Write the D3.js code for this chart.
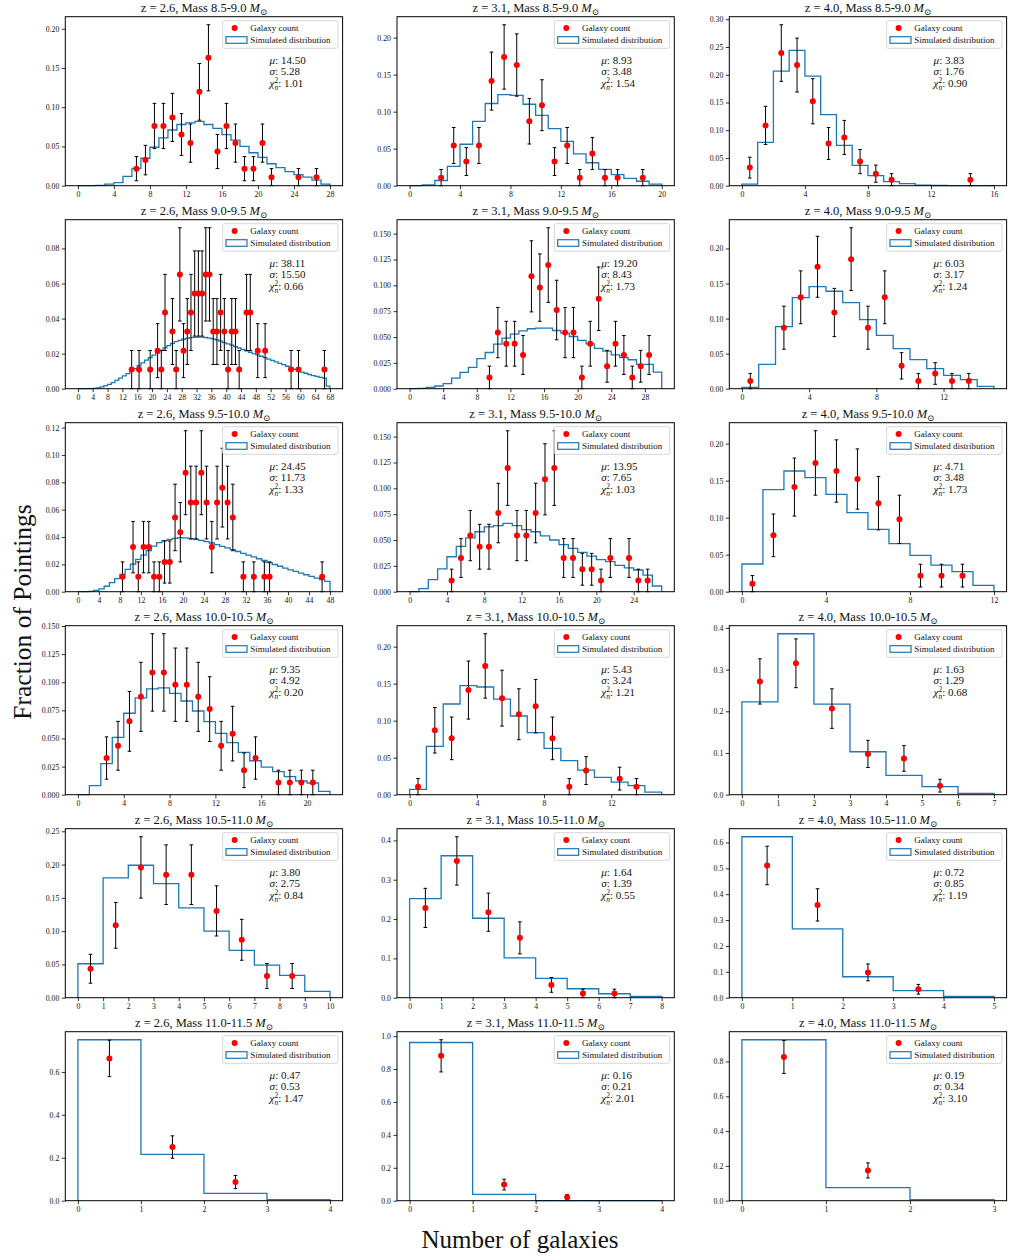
<!DOCTYPE html>
<html><head><meta charset="utf-8">
<script src="https://cdn.jsdelivr.net/npm/d3@7"></script>
<style>
body{margin:0;background:#fff}
svg{display:block}
text{font-family:'Liberation Serif','Times New Roman',serif;fill:#111}
</style>
</head><body>
<svg id="chart" width="1010" height="1260"></svg>
<script>
// ---------------- DATA ----------------
const zLabels = ["2.6", "3.1", "4.0"];
const massLabels = ["8.5-9.0", "9.0-9.5", "9.5-10.0", "10.0-10.5", "10.5-11.0", "11.0-11.5"];

// stats (row-major: mass rows, z columns)
const muVals    = ["14.50","8.93","3.83","38.11","19.20","6.03","24.45","13.95","4.71","9.35","5.43","1.63","3.80","1.64","0.72","0.47","0.16","0.19"];
const sigmaVals = ["5.28","3.48","1.76","15.50","8.43","3.17","11.73","7.65","3.48","4.92","3.24","1.29","2.75","1.39","0.85","0.53","0.21","0.34"];
const chi2Vals  = ["1.01","1.54","0.90","0.66","1.73","1.24","1.33","1.03","1.73","0.20","1.21","0.68","0.84","0.55","1.19","1.47","2.01","3.10"];

// simulated distributions (bin i spans [i, i+1])
const sim_26_85 = [0,0,0.0003,0.002,0.004,0.012,0.022,0.035,0.049,0.061,0.071,0.078,0.080,0.082,0.078,0.073,0.065,0.058,0.050,0.042,0.036,0.028,0.023,0.018,0.014,0.011,0.007,0.002];
const sim_31_85 = [0,0.001,0.007,0.026,0.056,0.087,0.111,0.123,0.122,0.110,0.095,0.077,0.060,0.043,0.031,0.022,0.015,0.010,0.006,0.002];
const sim_40_85 = [0.003,0.078,0.2065,0.244,0.1975,0.128,0.0726,0.0366,0.018,0.0072,0.0036,0.001,0.0004,0.0003,0.0002,0.0001];
const sim_26_90 = [0,0,0,0.0001,0.0002,0.0005,0.001,0.0017,0.0025,0.0035,
  0.0047,0.006,0.0073,0.0086,0.0100,0.0115,0.0131,0.0147,0.0163,0.0177,
  0.0191,0.0205,0.0219,0.0233,0.0246,0.0258,0.0268,0.0276,0.0282,0.0287,
  0.0291,0.0293,0.0294,0.0294,0.0292,0.0288,0.0284,0.0278,0.0271,0.0263,
  0.0256,0.0248,0.0240,0.0232,0.0224,0.0216,0.0208,0.0200,0.0193,0.0185,
  0.0177,0.0169,0.0161,0.0153,0.0145,0.0137,0.0128,0.0119,0.0111,0.0103,
  0.0095,0.0088,0.0081,0.0075,0.0070,0.0065,0.0060,0.0015];
const sim_31_90 = [0,0.0003,0.0013,0.0026,0.005,0.0103,0.0158,0.0206,0.029,0.035,0.0431,0.0489,0.0528,0.056,0.058,0.0586,0.0586,0.0563,0.0537,0.0505,0.0467,0.0434,0.039,0.0364,0.0328,0.0302,0.028,0.0235,0.0235,0.016];
const sim_40_90 = [0.002,0.0348,0.0886,0.130,0.1457,0.139,0.1229,0.0986,0.0762,0.0571,0.0414,0.0286,0.019,0.0129,0.0033];
const sim_26_95 = [0,0,0.0003,0.001,0.002,0.004,0.0066,0.0095,0.0127,0.0163,
  0.0202,0.0237,0.0268,0.030,0.0334,0.0359,0.0373,0.0383,0.039,0.0395,
  0.0393,0.0388,0.0383,0.0376,0.0366,0.0356,0.0344,0.0332,0.032,0.0307,
  0.0294,0.028,0.0267,0.0254,0.0241,0.0228,0.0212,0.0199,0.0186,0.0173,
  0.016,0.0148,0.0136,0.0124,0.0112,0.010,0.0088,0.0075];
const sim_31_95 = [0,0.003,0.0116,0.022,0.0338,0.0438,0.052,0.058,0.0627,0.064,0.066,0.064,0.060,0.058,0.054,0.050,0.0455,0.042,0.038,0.0345,0.031,0.029,0.0255,0.023,0.021,0.016,0.0055];
const sim_40_95 = [0.0374,0.1378,0.163,0.154,0.1315,0.1068,0.0842,0.0649,0.049,0.036,0.027,0.0086];
const sim_26_100 = [0,0.008,0.0276,0.051,0.0724,0.086,0.094,0.0949,0.090,0.0833,0.0744,0.065,0.0546,0.0463,0.0377,0.0302,0.0246,0.0205,0.016,0.0122,0.0104,0.003];
const sim_31_100 = [0.0072,0.0653,0.1225,0.1473,0.1455,0.129,0.1063,0.0838,0.0626,0.046,0.0333,0.0234,0.0171,0.0122,0.0036];
const sim_40_100 = [0.2227,0.386,0.217,0.103,0.0463,0.0192,0.003];
const sim_26_105 = [0.051,0.18,0.199,0.1715,0.135,0.10,0.071,0.049,0.0335,0.0095];
const sim_31_105 = [0.252,0.361,0.202,0.1014,0.049,0.0228,0.010,0.0034];
const sim_40_105 = [0.622,0.266,0.081,0.027,0.005];
const sim_26_110 = [0.750,0.2155,0.034,0.0047];
const sim_31_110 = [0.9615,0.0385,0.001,0.0003];
const sim_40_110 = [0.925,0.0746,0.006];

// observed galaxy counts: x (bin centre), y (fraction), err
const obsX_26_85 = [6.5,7.5,8.5,9.5,10.5,11.5,12.5,13.5,14.5,15.5,16.5,17.5,18.5,19.5,20.5,21.5,24.5,26.5];
const obsY_26_85 = [0.0217,0.0326,0.0761,0.0761,0.0870,0.0652,0.0543,0.1196,0.1630,0.0435,0.0761,0.0543,0.0217,0.0217,0.0543,0.0109,0.0109,0.0109];
const obsE_26_85 = [0.0154,0.0188,0.0288,0.0288,0.0307,0.0266,0.0243,0.0361,0.0421,0.0217,0.0288,0.0243,0.0154,0.0154,0.0243,0.0109,0.0109,0.0109];

const obsX_31_85 = [2.5,3.5,4.5,5.5,6.5,7.5,8.5,9.5,10.5,11.5,12.5,13.5,14.5,15.5,16.5,18.5];
const obsY_31_85 = [0.0109,0.0543,0.0326,0.0543,0.1413,0.1739,0.1630,0.0870,0.1087,0.0326,0.0543,0.0109,0.0435,0.0109,0.0109,0.0109];
const obsE_31_85 = [0.0109,0.0243,0.0188,0.0243,0.0392,0.0435,0.0421,0.0307,0.0344,0.0188,0.0243,0.0109,0.0217,0.0109,0.0109,0.0109];

const obsX_40_85 = [0.5,1.5,2.5,3.5,4.5,5.5,6.5,7.5,8.5,9.5,14.5];
const obsY_40_85 = [0.0326,0.1087,0.2391,0.2174,0.1522,0.0761,0.0870,0.0435,0.0217,0.0109,0.0109];
const obsE_40_85 = [0.0188,0.0344,0.0510,0.0486,0.0407,0.0288,0.0307,0.0217,0.0154,0.0109,0.0109];

const obsX_26_90 = [14.5,16.5,19.5,21.5,22.5,23.5,25.5,26.5,27.5,28.5,29.5,30.5,31.5,32.5,33.5,34.5,35.5,36.5,37.5,38.5,39.5,40.5,41.5,42.5,43.5,45.5,46.5,48.5,50.5,57.5,59.5,66.5];
const obsY_26_90 = [0.0109,0.0109,0.0109,0.0217,0.0109,0.0435,0.0326,0.0109,0.0652,0.0217,0.0326,0.0435,0.0543,0.0543,0.0543,0.0652,0.0652,0.0326,0.0326,0.0435,0.0326,0.0109,0.0326,0.0326,0.0109,0.0435,0.0435,0.0217,0.0217,0.0109,0.0109,0.0109];
const obsE_26_90 = [0.0109,0.0109,0.0109,0.0154,0.0109,0.0217,0.0188,0.0109,0.0266,0.0154,0.0188,0.0217,0.0243,0.0243,0.0243,0.0266,0.0266,0.0188,0.0188,0.0217,0.0188,0.0109,0.0188,0.0188,0.0109,0.0217,0.0217,0.0154,0.0154,0.0109,0.0109,0.0109];

const obsX_31_90 = [9.5,10.5,11.5,12.5,13.5,14.5,15.5,16.5,17.5,18.5,19.5,20.5,21.5,22.5,23.5,24.5,25.5,26.5,27.5,28.5];
const obsY_31_90 = [0.0109,0.0543,0.0435,0.0435,0.0326,0.1087,0.0978,0.1196,0.0761,0.0543,0.0543,0.0109,0.0435,0.0870,0.0217,0.0435,0.0326,0.0109,0.0217,0.0326];
const obsE_31_90 = [0.0109,0.0243,0.0217,0.0217,0.0188,0.0344,0.0326,0.0361,0.0288,0.0243,0.0243,0.0109,0.0217,0.0307,0.0154,0.0217,0.0188,0.0109,0.0154,0.0188];

const obsX_40_90 = [0.5,2.5,3.5,4.5,5.5,6.5,7.5,8.5,9.5,10.5,11.5,12.5,13.5];
const obsY_40_90 = [0.0109,0.0870,0.1304,0.1739,0.1087,0.1848,0.0870,0.1304,0.0326,0.0109,0.0217,0.0109,0.0109];
const obsE_40_90 = [0.0109,0.0307,0.0377,0.0435,0.0344,0.0448,0.0307,0.0377,0.0188,0.0109,0.0154,0.0109,0.0109];

const obsX_26_95 = [8.5,10.5,11.5,12.5,13.5,14.5,15.5,16.5,17.5,18.5,19.5,20.5,21.5,22.5,23.5,24.5,25.5,26.5,27.5,28.5,29.5,31.5,33.5,35.5,36.5,46.5];
const obsY_26_95 = [0.0109,0.0326,0.0109,0.0326,0.0326,0.0109,0.0109,0.0217,0.0217,0.0543,0.0435,0.0870,0.0652,0.0652,0.0870,0.0652,0.0326,0.0652,0.0761,0.0652,0.0543,0.0109,0.0109,0.0109,0.0109,0.0109];
const obsE_26_95 = [0.0109,0.0188,0.0109,0.0188,0.0188,0.0109,0.0109,0.0154,0.0154,0.0243,0.0217,0.0307,0.0266,0.0266,0.0307,0.0266,0.0188,0.0266,0.0288,0.0266,0.0243,0.0109,0.0109,0.0109,0.0109,0.0109];

const obsX_31_95 = [4.5,5.5,6.5,7.5,8.5,9.5,10.5,11.5,12.5,13.5,14.5,15.5,16.5,17.5,18.5,19.5,20.5,21.5,23.5,24.5,25.5];
const obsY_31_95 = [0.0109,0.0326,0.0543,0.0435,0.0435,0.0761,0.1196,0.0543,0.0543,0.0761,0.1087,0.1196,0.0326,0.0326,0.0217,0.0217,0.0109,0.0326,0.0326,0.0109,0.0109];
const obsE_31_95 = [0.0109,0.0188,0.0243,0.0217,0.0217,0.0288,0.0361,0.0243,0.0243,0.0288,0.0344,0.0361,0.0188,0.0188,0.0154,0.0154,0.0109,0.0188,0.0188,0.0109,0.0109];

const obsX_40_95 = [0.5,1.5,2.5,3.5,4.5,5.5,6.5,7.5,8.5,9.5,10.5];
const obsY_40_95 = [0.0109,0.0761,0.1413,0.1739,0.1630,0.1522,0.1196,0.0978,0.0217,0.0217,0.0217];
const obsE_40_95 = [0.0109,0.0288,0.0392,0.0435,0.0421,0.0407,0.0361,0.0326,0.0154,0.0154,0.0154];

const obsX_26_100 = [2.5,3.5,4.5,5.5,6.5,7.5,8.5,9.5,10.5,11.5,12.5,13.5,14.5,15.5,17.5,18.5,19.5,20.5];
const obsY_26_100 = [0.0326,0.0435,0.0652,0.0870,0.1087,0.1087,0.0978,0.0978,0.0870,0.0761,0.0435,0.0543,0.0217,0.0326,0.0109,0.0109,0.0109,0.0109];
const obsE_26_100 = [0.0188,0.0217,0.0266,0.0307,0.0344,0.0344,0.0326,0.0326,0.0307,0.0288,0.0217,0.0243,0.0154,0.0188,0.0109,0.0109,0.0109,0.0109];

const obsX_31_100 = [0.5,1.5,2.5,3.5,4.5,5.5,6.5,7.5,8.5,9.5,10.5,12.5,13.5];
const obsY_31_100 = [0.0109,0.0870,0.0761,0.1413,0.1739,0.1304,0.1087,0.1196,0.0761,0.0109,0.0326,0.0217,0.0109];
const obsE_31_100 = [0.0109,0.0307,0.0288,0.0392,0.0435,0.0377,0.0344,0.0361,0.0288,0.0109,0.0188,0.0154,0.0109];

const obsX_40_100 = [0.5,1.5,2.5,3.5,4.5,5.5];
const obsY_40_100 = [0.2717,0.3152,0.2065,0.0978,0.0870,0.0217];
const obsE_40_100 = [0.0543,0.0585,0.0474,0.0326,0.0307,0.0154];

const obsX_26_105 = [0.5,1.5,2.5,3.5,4.5,5.5,6.5,7.5,8.5];
const obsY_26_105 = [0.0435,0.1087,0.1957,0.1848,0.1848,0.1304,0.0870,0.0326,0.0326];
const obsE_26_105 = [0.0217,0.0344,0.0461,0.0448,0.0448,0.0377,0.0307,0.0188,0.0188];

const obsX_31_105 = [0.5,1.5,2.5,3.5,4.5,5.5,6.5];
const obsY_31_105 = [0.2283,0.3478,0.2174,0.1522,0.0326,0.0109,0.0109];
const obsE_31_105 = [0.0498,0.0615,0.0486,0.0407,0.0188,0.0109,0.0109];

const obsX_40_105 = [0.5,1.5,2.5,3.5];
const obsY_40_105 = [0.5109,0.3587,0.0978,0.0326];
const obsE_40_105 = [0.0745,0.0624,0.0326,0.0188];

const obsX_26_110 = [0.5,1.5,2.5];
const obsY_26_110 = [0.6630,0.2500,0.0870];
const obsE_26_110 = [0.0849,0.0521,0.0307];

const obsX_31_110 = [0.5,1.5,2.5];
const obsY_31_110 = [0.8804,0.0978,0.0217];
const obsE_31_110 = [0.0978,0.0326,0.0154];

const obsX_40_110 = [0.5,1.5];
const obsY_40_110 = [0.8261,0.1739];
const obsE_40_110 = [0.0948,0.0435];

// tick values
const xt_26_85 = [0,4,8,12,16,20,24,28];
const xt_31_85 = [0,4,8,12,16,20];
const xt_40_85 = [0,4,8,12,16];
const xt_26_90 = [0,4,8,12,16,20,24,28,32,36,40,44,48,52,56,60,64,68];
const xt_31_90 = [0,4,8,12,16,20,24,28];
const xt_40_90 = [0,4,8,12];
const xt_26_95 = [0,4,8,12,16,20,24,28,32,36,40,44,48];
const xt_31_95 = [0,4,8,12,16,20,24];
const xt_40_95 = [0,4,8,12];
const xt_26_100 = [0,4,8,12,16,20];
const xt_31_100 = [0,4,8,12];
const xt_40_100 = [0,1,2,3,4,5,6,7];
const xt_26_105 = [0,1,2,3,4,5,6,7,8,9,10];
const xt_31_105 = [0,1,2,3,4,5,6,7,8];
const xt_40_105 = [0,1,2,3,4,5];
const xt_26_110 = [0,1,2,3,4];
const xt_31_110 = [0,1,2,3,4];
const xt_40_110 = [0,1,2,3];

const yt_26_85 = ["0.00","0.05","0.10","0.15","0.20"];
const yt_31_85 = ["0.00","0.05","0.10","0.15","0.20"];
const yt_40_85 = ["0.00","0.05","0.10","0.15","0.20","0.25","0.30"];
const yt_26_90 = ["0.00","0.02","0.04","0.06","0.08"];
const yt_31_90 = ["0.000","0.025","0.050","0.075","0.100","0.125","0.150"];
const yt_40_90 = ["0.00","0.05","0.10","0.15","0.20"];
const yt_26_95 = ["0.00","0.02","0.04","0.06","0.08","0.10","0.12"];
const yt_31_95 = ["0.000","0.025","0.050","0.075","0.100","0.125","0.150"];
const yt_40_95 = ["0.00","0.05","0.10","0.15","0.20"];
const yt_26_100 = ["0.000","0.025","0.050","0.075","0.100","0.125","0.150"];
const yt_31_100 = ["0.00","0.05","0.10","0.15","0.20"];
const yt_40_100 = ["0.0","0.1","0.2","0.3","0.4"];
const yt_26_105 = ["0.00","0.05","0.10","0.15","0.20","0.25"];
const yt_31_105 = ["0.0","0.1","0.2","0.3","0.4"];
const yt_40_105 = ["0.0","0.1","0.2","0.3","0.4","0.5","0.6"];
const yt_26_110 = ["0.0","0.2","0.4","0.6"];
const yt_31_110 = ["0.0","0.2","0.4","0.6","0.8","1.0"];
const yt_40_110 = ["0.0","0.2","0.4","0.6","0.8"];

const panels = [
  {sim: sim_26_85, ox: obsX_26_85, oy: obsY_26_85, oe: obsE_26_85, xt: xt_26_85, yt: yt_26_85},
  {sim: sim_31_85, ox: obsX_31_85, oy: obsY_31_85, oe: obsE_31_85, xt: xt_31_85, yt: yt_31_85},
  {sim: sim_40_85, ox: obsX_40_85, oy: obsY_40_85, oe: obsE_40_85, xt: xt_40_85, yt: yt_40_85},
  {sim: sim_26_90, ox: obsX_26_90, oy: obsY_26_90, oe: obsE_26_90, xt: xt_26_90, yt: yt_26_90},
  {sim: sim_31_90, ox: obsX_31_90, oy: obsY_31_90, oe: obsE_31_90, xt: xt_31_90, yt: yt_31_90},
  {sim: sim_40_90, ox: obsX_40_90, oy: obsY_40_90, oe: obsE_40_90, xt: xt_40_90, yt: yt_40_90},
  {sim: sim_26_95, ox: obsX_26_95, oy: obsY_26_95, oe: obsE_26_95, xt: xt_26_95, yt: yt_26_95},
  {sim: sim_31_95, ox: obsX_31_95, oy: obsY_31_95, oe: obsE_31_95, xt: xt_31_95, yt: yt_31_95},
  {sim: sim_40_95, ox: obsX_40_95, oy: obsY_40_95, oe: obsE_40_95, xt: xt_40_95, yt: yt_40_95},
  {sim: sim_26_100, ox: obsX_26_100, oy: obsY_26_100, oe: obsE_26_100, xt: xt_26_100, yt: yt_26_100},
  {sim: sim_31_100, ox: obsX_31_100, oy: obsY_31_100, oe: obsE_31_100, xt: xt_31_100, yt: yt_31_100},
  {sim: sim_40_100, ox: obsX_40_100, oy: obsY_40_100, oe: obsE_40_100, xt: xt_40_100, yt: yt_40_100},
  {sim: sim_26_105, ox: obsX_26_105, oy: obsY_26_105, oe: obsE_26_105, xt: xt_26_105, yt: yt_26_105},
  {sim: sim_31_105, ox: obsX_31_105, oy: obsY_31_105, oe: obsE_31_105, xt: xt_31_105, yt: yt_31_105},
  {sim: sim_40_105, ox: obsX_40_105, oy: obsY_40_105, oe: obsE_40_105, xt: xt_40_105, yt: yt_40_105},
  {sim: sim_26_110, ox: obsX_26_110, oy: obsY_26_110, oe: obsE_26_110, xt: xt_26_110, yt: yt_26_110},
  {sim: sim_31_110, ox: obsX_31_110, oy: obsY_31_110, oe: obsE_31_110, xt: xt_31_110, yt: yt_31_110},
  {sim: sim_40_110, ox: obsX_40_110, oy: obsY_40_110, oe: obsE_40_110, xt: xt_40_110, yt: yt_40_110}
];

// ---------------- DRAW ----------------
const svg = d3.select("#chart");
const colLeft = [65.3, 397, 729.3];
const axW = 277.3, axH = 169;
const rowTop = r => 16.7 + 203 * r;
const BLUE = "#1f77b4";

panels.forEach((p, i) => {
  const r = Math.floor(i / 3), c = i % 3;
  const L = colLeft[c], T = rowTop(r), R = L + axW, B = T + axH;
  const nb = p.sim.length;
  const x = d3.scaleLinear().domain([-0.05 * nb, 1.05 * nb]).range([L, R]);
  const top = 1.05 * Math.max(d3.max(p.sim), d3.max(p.oy.map((v, j) => v + p.oe[j])));
  const y = d3.scaleLinear().domain([0, top]).range([B, T]);
  const g = svg.append("g");

  // histogram step outline
  const stepPts = [[0, 0]];
  p.sim.forEach((h, j) => { stepPts.push([j, h]); stepPts.push([j + 1, h]); });
  stepPts.push([nb, 0]);
  g.append("path")
    .attr("d", d3.line().x(d => x(d[0])).y(d => y(d[1]))(stepPts))
    .attr("fill", "none").attr("stroke", BLUE).attr("stroke-width", 1.3)
    .attr("stroke-linejoin", "miter");

  // error bars
  const obs = p.ox.map((v, j) => ({x: v, y: p.oy[j], e: p.oe[j]}));
  const eb = g.append("g").attr("stroke", "#000").attr("stroke-width", 1);
  eb.selectAll("line.v").data(obs).join("line").attr("class", "v")
    .attr("x1", d => x(d.x)).attr("x2", d => x(d.x))
    .attr("y1", d => y(d.y - d.e)).attr("y2", d => y(d.y + d.e));
  eb.selectAll("line.cl").data(obs).join("line").attr("class", "cl")
    .attr("x1", d => x(d.x) - 1.8).attr("x2", d => x(d.x) + 1.8)
    .attr("y1", d => y(d.y - d.e)).attr("y2", d => y(d.y - d.e));
  eb.selectAll("line.ch").data(obs).join("line").attr("class", "ch")
    .attr("x1", d => x(d.x) - 1.8).attr("x2", d => x(d.x) + 1.8)
    .attr("y1", d => y(d.y + d.e)).attr("y2", d => y(d.y + d.e));
  g.selectAll("circle").data(obs).join("circle")
    .attr("cx", d => x(d.x)).attr("cy", d => y(d.y)).attr("r", 3)
    .attr("fill", "#ff0000");

  // axes
  const xa = g.append("g").attr("transform", `translate(0,${B})`)
    .call(d3.axisBottom(x).tickValues(p.xt).tickSize(3.5).tickSizeOuter(0).tickPadding(2.5).tickFormat(d3.format("d")));
  const ya = g.append("g").attr("transform", `translate(${L},0)`)
    .call(d3.axisLeft(y).tickValues(p.yt.map(Number)).tickSize(3.5).tickSizeOuter(0).tickPadding(2.5)
      .tickFormat((d, k) => p.yt[k]));
  [xa, ya].forEach(a => {
    a.select(".domain").remove();
    a.selectAll(".tick line").attr("stroke", "#000").attr("stroke-width", 0.8);
    a.selectAll(".tick text").attr("font-size", 7.8).attr("font-family", "'Liberation Serif',serif").attr("fill", "#222");
  });

  // frame
  g.append("rect").attr("x", L).attr("y", T).attr("width", axW).attr("height", axH)
    .attr("fill", "none").attr("stroke", "#000").attr("stroke-width", 1);

  // title
  const title = g.append("text").attr("x", (L + R) / 2).attr("y", T - 4.5)
    .attr("text-anchor", "middle").attr("font-size", 12.5);
  title.append("tspan").text(`z = ${zLabels[c]}, Mass ${massLabels[r]} `);
  title.append("tspan").attr("font-style", "italic").text("M");
  title.append("tspan").attr("font-size", 8.5).attr("dy", 2.5).attr("font-family", "'DejaVu Serif',serif").text("\u2299");

  // legend
  const lg = g.append("g").attr("transform", `translate(${R - 120},${T + 4})`);
  lg.append("rect").attr("width", 115.4).attr("height", 27.6).attr("rx", 2)
    .attr("fill", "#fff").attr("fill-opacity", 0.8).attr("stroke", "#cccccc").attr("stroke-width", 0.8);
  lg.append("circle").attr("cx", 12).attr("cy", 7.3).attr("r", 3).attr("fill", "#ff0000");
  lg.append("text").attr("x", 27.7).attr("y", 10.3).attr("font-size", 9).text("Galaxy count");
  lg.append("rect").attr("x", 3.4).attr("y", 16).attr("width", 21).attr("height", 6.6)
    .attr("fill", "none").attr("stroke", BLUE).attr("stroke-width", 1.2);
  lg.append("text").attr("x", 27.7).attr("y", 22.3).attr("font-size", 9).text("Simulated distribution");

  // stats
  const sx = R - 73;
  const t1 = g.append("text").attr("x", sx).attr("y", T + 47.3).attr("font-size", 11);
  t1.append("tspan").attr("font-style", "italic").text("\u03bc");
  t1.append("tspan").text(": " + muVals[i]);
  const t2 = g.append("text").attr("x", sx).attr("y", T + 58.3).attr("font-size", 11);
  t2.append("tspan").attr("font-style", "italic").text("\u03c3");
  t2.append("tspan").text(": " + sigmaVals[i]);
  const t3 = g.append("text").attr("x", sx).attr("y", T + 70.6).attr("font-size", 11);
  t3.append("tspan").attr("font-style", "italic").text("\u03c7");
  t3.append("tspan").attr("font-size", 7.5).attr("dy", -4.5).text("2");
  t3.append("tspan").attr("font-size", 7.5).attr("font-style", "italic").attr("dx", -3.75).attr("dy", 7.5).text("n");
  t3.append("tspan").attr("dy", -3).text(": " + chi2Vals[i]);
});

// shared axis labels
svg.append("text").attr("transform", "translate(31,612) rotate(-90)")
  .attr("text-anchor", "middle").attr("font-size", 25.5).text("Fraction of Pointings");
svg.append("text").attr("x", 520).attr("y", 1248)
  .attr("text-anchor", "middle").attr("font-size", 25).text("Number of galaxies");
</script>
</body></html>
